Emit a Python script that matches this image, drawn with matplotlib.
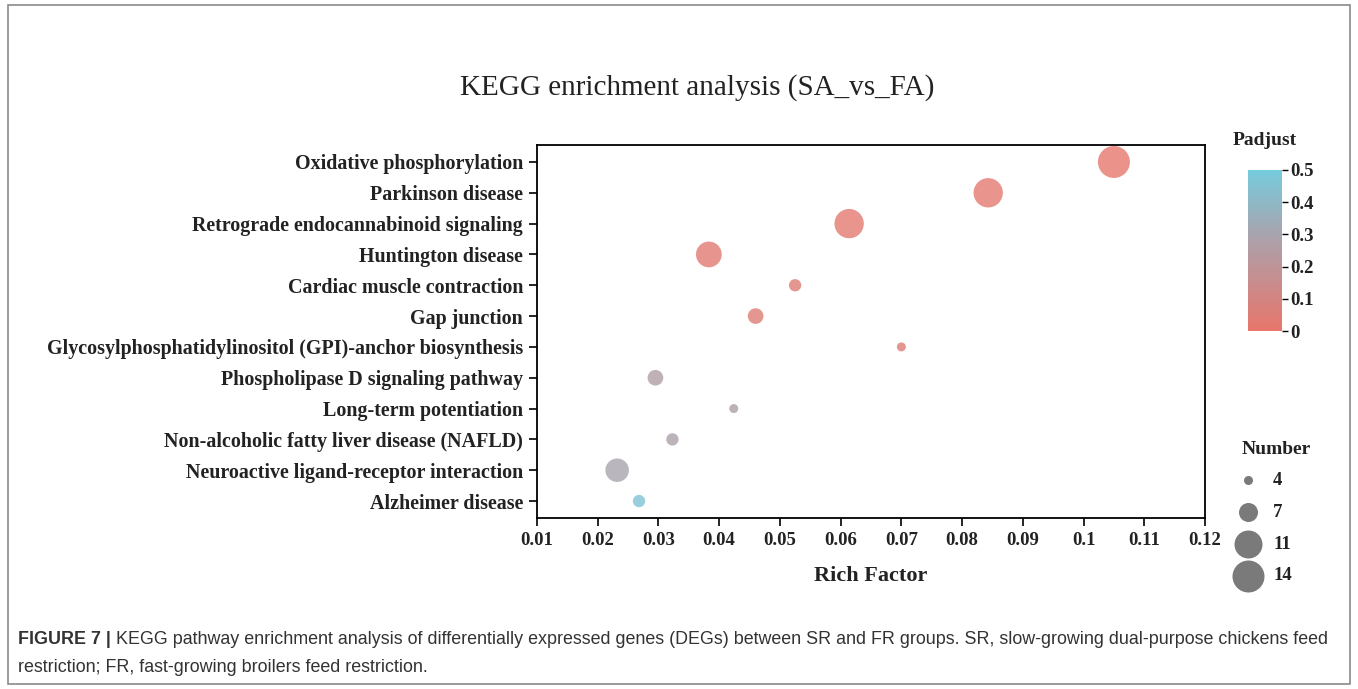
import numpy as np
import matplotlib
matplotlib.use('Agg')
from matplotlib import pyplot as plt
from matplotlib.colors import LinearSegmentedColormap
from matplotlib.patches import Rectangle

# 数据
pathways = ['Oxidative phosphorylation', 'Parkinson disease',
            'Retrograde endocannabinoid signaling', 'Huntington disease',
            'Cardiac muscle contraction', 'Gap junction',
            'Glycosylphosphatidylinositol (GPI)-anchor biosynthesis',
            'Phospholipase D signaling pathway', 'Long-term potentiation',
            'Non-alcoholic fatty liver disease (NAFLD)',
            'Neuroactive ligand-receptor interaction', 'Alzheimer disease']
rich_factor = [0.105, 0.0843, 0.0614, 0.0383, 0.0525, 0.046,
               0.070, 0.0295, 0.0424, 0.0323, 0.0232, 0.0268]
number = [14, 12, 12, 10, 5, 6, 4, 6, 4, 5, 9, 5]
padjust = [0.01, 0.02, 0.02, 0.03, 0.05, 0.05,
           0.05, 0.26, 0.27, 0.28, 0.30, 0.46]
legend_numbers = [4, 7, 11, 14]
x_ticks = [0.01, 0.02, 0.03, 0.04, 0.05, 0.06, 0.07, 0.08, 0.09, 0.1, 0.11, 0.12]

DPI = 100
serif = 'Liberation Serif'
cmap = LinearSegmentedColormap.from_list(
    'padj', [(0, '#E8766B'), (0.55, '#AE9FA8'), (1, '#76CBDD')])

def size_of(n):
    # 气泡直径(像素) -> 面积(pt^2)
    d = np.interp(n, [4, 7, 11, 14], [9, 19, 28, 32])
    return (np.asarray(d) * 72 / DPI) ** 2

fig = plt.figure(figsize=(13.58, 6.89), dpi=DPI)
fig.patches.append(Rectangle((8 / 1358, 1 - 684 / 689), 1342 / 1358, 679 / 689,
                             transform=fig.transFigure, fill=False,
                             edgecolor='#8a8a8a', linewidth=1.2))

ax = fig.add_axes([537 / 1358, 1 - 518 / 689, 668 / 1358, 373 / 689])
y = np.arange(len(pathways))[::-1]
sc = ax.scatter(rich_factor, y, s=size_of(number), c=padjust, cmap=cmap,
                vmin=0, vmax=0.5, alpha=0.8, linewidths=0, zorder=3)
ax.set_xlim(0.01, 0.12)
ax.set_ylim(-0.55, len(pathways) - 0.45)
ax.set_xticks(x_ticks)
ax.set_xticklabels([('%g' % v) for v in x_ticks])
ax.set_yticks(y)
ax.set_yticklabels(pathways)
for lab in ax.get_xticklabels():
    lab.set_fontfamily(serif)
    lab.set_fontweight('bold')
    lab.set_fontsize(13.5)
    lab.set_color('#222222')
for lab in ax.get_yticklabels():
    lab.set_fontfamily(serif)
    lab.set_fontweight('bold')
    lab.set_fontsize(14.4)
    lab.set_color('#222222')
ax.tick_params(direction='out', length=6, width=1.2, pad=4)
for sp in ax.spines.values():
    sp.set_linewidth(1.3)
ax.set_xlabel('Rich Factor', fontfamily=serif, fontweight='bold',
              fontsize=16, labelpad=12, color='#222222')

fig.text(697 / 1358, 1 - 88 / 689,
         'KEGG enrichment analysis (SA_vs_FA)', ha='center', va='center',
         fontfamily=serif, fontsize=21, color='#222222')

# 颜色条
cax = fig.add_axes([1248 / 1358, 1 - 331 / 689, 34 / 1358, 161 / 689])
cb = fig.colorbar(sc, cax=cax)
cb.solids.set_alpha(1)
cb.outline.set_visible(False)
cb.set_ticks([0, 0.1, 0.2, 0.3, 0.4, 0.5])
cb.set_ticklabels(['0', '0.1', '0.2', '0.3', '0.4', '0.5'])
cax.tick_params(length=4, width=1, pad=2)
for lab in cax.get_yticklabels():
    lab.set_fontfamily(serif)
    lab.set_fontweight('bold')
    lab.set_fontsize(13.5)
    lab.set_color('#222222')
cax.set_title('Padjust', fontfamily=serif, fontweight='bold', fontsize=14,
              pad=18, color='#222222')

# 气泡大小图例
fig.text(1276 / 1358, 1 - 449 / 689, 'Number', ha='center', va='center',
         fontfamily=serif, fontweight='bold', fontsize=14, color='#222222')
handles = [ax.scatter([], [], s=size_of(n), color='#7a7a7a', linewidths=0)
           for n in legend_numbers]
leg = fig.legend(handles, [str(n) for n in legend_numbers],
                 loc='upper left', bbox_to_anchor=(1216 / 1358, 1 - 459 / 689),
                 frameon=False, labelspacing=0.78, handletextpad=0.35,
                 borderpad=0.2, prop={'family': serif, 'weight': 'bold', 'size': 13.5})
for t in leg.get_texts():
    t.set_color('#222222')

# 图注
cap_y1 = 1 - 640 / 689
cap_y2 = 1 - 668 / 689
t1 = fig.text(18 / 1358, cap_y1, 'FIGURE 7 | ', fontfamily='Liberation Sans',
              fontweight='bold', fontsize=12.9, va='center', color='#333333')
fig.canvas.draw()
bb = t1.get_window_extent()
fig.text(bb.x1 / fig.bbox.width, cap_y1,
         'KEGG pathway enrichment analysis of differentially expressed genes (DEGs) '
         'between SR and FR groups. SR, slow-growing dual-purpose chickens feed',
         fontfamily='Liberation Sans', fontsize=12.9, va='center', color='#333333')
fig.text(18 / 1358, cap_y2,
         'restriction; FR, fast-growing broilers feed restriction.',
         fontfamily='Liberation Sans', fontsize=12.9, va='center', color='#333333')

fig.savefig('out.png', dpi=DPI)
